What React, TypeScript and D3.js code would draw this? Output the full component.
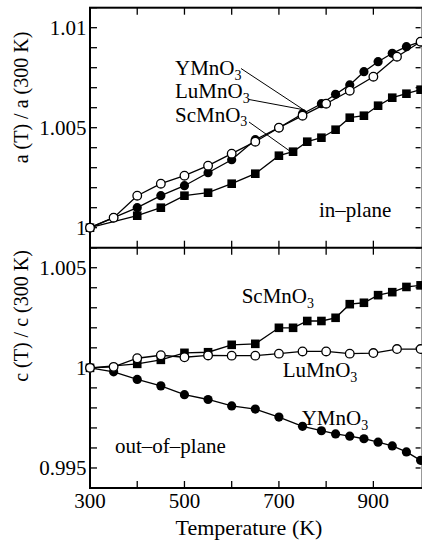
import React from "react";
import * as d3 from "d3";

// ---------- data ----------
// in-plane a(T)/a(300K)
const inY_T = [300, 350, 400, 450, 500, 550, 600, 650, 700, 750, 790, 820, 850, 880, 910, 940, 970, 1000];
const inY_V = [1, 1.0005, 1.001, 1.0016, 1.0021, 1.00275, 1.0034, 1.0044, 1.005, 1.0057, 1.0062, 1.00667, 1.00714, 1.0078, 1.0083, 1.00872, 1.00905, 1.0093];
const inLu_T = [300, 350, 400, 450, 500, 550, 600, 650, 700, 750, 800, 850, 900, 950, 1000];
const inLu_V = [1, 1.0005, 1.0016, 1.0022, 1.0026, 1.0031, 1.0037, 1.0043, 1.005, 1.0056, 1.0062, 1.00685, 1.00755, 1.00855, 1.0093];
const inSc_T = [300, 400, 450, 500, 550, 600, 650, 700, 730, 760, 790, 820, 850, 880, 910, 940, 970, 1000];
const inSc_V = [1, 1.0006, 1.001, 1.0016, 1.00175, 1.0022, 1.0027, 1.0036, 1.0038, 1.0043, 1.0045, 1.0049, 1.0055, 1.0056, 1.0061, 1.0065, 1.0067, 1.0069];

// out-of-plane c(T)/c(300K)
const outY_T = [300, 350, 400, 450, 500, 550, 600, 650, 700, 750, 790, 820, 850, 880, 910, 940, 970, 1000];
const outY_V = [1, 0.9998, 0.99942, 0.9991, 0.99866, 0.99842, 0.9981, 0.99794, 0.99754, 0.99708, 0.99686, 0.9967, 0.99659, 0.99646, 0.99629, 0.9961, 0.9958, 0.99538];
const outLu_T = [300, 350, 400, 450, 500, 550, 600, 650, 700, 750, 800, 850, 900, 950, 1000];
const outLu_V = [1, 1.00005, 1.00048, 1.00063, 1.00053, 1.00062, 1.00061, 1.00061, 1.00071, 1.00082, 1.00082, 1.00071, 1.00074, 1.00094, 1.00094];
const outSc_T = [300, 400, 450, 500, 550, 600, 650, 700, 730, 760, 790, 820, 850, 880, 910, 940, 970, 1000];
const outSc_V = [1, 1.0002, 1.0004, 1.00075, 1.00078, 1.00115, 1.0012, 1.002, 1.002, 1.00234, 1.00234, 1.0025, 1.00318, 1.00325, 1.00363, 1.00378, 1.00404, 1.00412];

const xTicks = [400, 500, 600, 700, 800, 900];
const xTickLabels = [300, 500, 700, 900];
const topLabels = [1, 1.005, 1.01];
const topLabelText = ["1", "1.005", "1.01"];
const botLabels = [0.995, 1, 1.005];
const botLabelText = ["0.995", "1", "1.005"];

// ---------- layout ----------
const W = 422, H = 543;
const L = 90, R = 420.6;
const T1 = 7.7, MID = 247.7, B2 = 488;
const FONT = "Liberation Serif, DejaVu Serif, serif";

const x = d3.scaleLinear().domain([300, 1000]).range([L, R]);
const yTop = d3.scaleLinear().domain([0.999, 1.011]).range([MID, T1]);
const yBot = d3.scaleLinear().domain([0.994, 1.006]).range([B2, MID]);

type Kind = "filled" | "open" | "square";

function Series({ ts, vs, y, kind }: { ts: number[]; vs: number[]; y: d3.ScaleLinear<number, number>; kind: Kind }) {
  const pts = ts.map((t, i) => [x(t), y(vs[i])] as [number, number]);
  const line = d3.line()(pts) || "";
  return (
    <g>
      <path d={line} fill="none" stroke="#000" strokeWidth={1.3} />
      {pts.map(([px, py], i) =>
        kind === "square" ? (
          <rect key={i} x={px - 4.3} y={py - 4.3} width={8.6} height={8.6} fill="#000" />
        ) : (
          <circle key={i} cx={px} cy={py} r={kind === "open" ? 4.3 : 4.6}
            fill={kind === "open" ? "#fff" : "#000"} stroke="#000" strokeWidth={kind === "open" ? 1.3 : 0} />
        )
      )}
    </g>
  );
}

function Chem({ x: tx, y: ty, base }: { x: number; y: number; base: string }) {
  return (
    <text x={tx} y={ty} style={{ fontFamily: FONT, fontSize: 21 }}>
      {base}
      <tspan style={{ fontSize: 14 }} dy={4.5}>3</tspan>
    </text>
  );
}

function YTicks({ y, lo, hi }: { y: d3.ScaleLinear<number, number>; lo: number; hi: number }) {
  const ticks = d3.range(Math.round(lo * 1000), Math.round(hi * 1000) + 1).map((k) => k / 1000);
  return (
    <g stroke="#000" strokeWidth={1.3}>
      {ticks.map((v, i) => (
        <g key={i}>
          <line x1={L} x2={L + 7} y1={y(v)} y2={y(v)} />
          <line x1={R} x2={R - 5} y1={y(v)} y2={y(v)} />
        </g>
      ))}
    </g>
  );
}

const txt = { fontFamily: FONT, fontSize: 21 };
const ytitle = { fontFamily: FONT, fontSize: 20 };
const xtitle = { fontFamily: FONT, fontSize: 22 };

export default function App() {
  return (
    <div style={{ position: "absolute", left: 0, top: 0 }}>
      <svg width={W} height={H} style={{ display: "block" }}>
        <rect width={W} height={H} fill="#fff" />
        {/* frames */}
        <rect x={L} y={T1} width={R - L + 2} height={B2 - T1} fill="none" stroke="#000" strokeWidth={2} />
        <line x1={L} x2={R + 2} y1={MID} y2={MID} stroke="#000" strokeWidth={2} />

        {/* x ticks */}
        <g stroke="#000" strokeWidth={1.3}>
          {xTicks.map((t) => (
            <g key={t}>
              <line x1={x(t)} x2={x(t)} y1={T1} y2={T1 + 7} />
              <line x1={x(t)} x2={x(t)} y1={MID - 7} y2={MID + 7} />
              <line x1={x(t)} x2={x(t)} y1={B2} y2={B2 - 7} />
            </g>
          ))}
        </g>
        <YTicks y={yTop} lo={0.999} hi={1.011} />
        <YTicks y={yBot} lo={0.994} hi={1.006} />

        {/* tick labels */}
        <g style={txt} fill="#000">
          {xTickLabels.map((t) => (
            <text key={t} x={x(t)} y={508} textAnchor="middle">{t}</text>
          ))}
          {topLabels.map((v, i) => (
            <text key={"t" + i} x={86.5} y={yTop(v) + 7} textAnchor="end">{topLabelText[i]}</text>
          ))}
          {botLabels.map((v, i) => (
            <text key={"b" + i} x={86.5} y={yBot(v) + 7} textAnchor="end">{botLabelText[i]}</text>
          ))}
        </g>

        {/* axis titles */}
        <text x={249} y={535} textAnchor="middle" style={xtitle}>Temperature (K)</text>
        <text transform="translate(28,97.5) rotate(-90)" textAnchor="middle" style={ytitle}>a (T) / a (300 K)</text>
        <text transform="translate(28,316) rotate(-90)" textAnchor="middle" style={ytitle}>c (T) / c (300 K)</text>

        {/* series: top */}
        <Series ts={inSc_T} vs={inSc_V} y={yTop} kind="square" />
        <Series ts={inY_T} vs={inY_V} y={yTop} kind="filled" />
        <Series ts={inLu_T} vs={inLu_V} y={yTop} kind="open" />

        {/* series: bottom */}
        <Series ts={outY_T} vs={outY_V} y={yBot} kind="filled" />
        <Series ts={outSc_T} vs={outSc_V} y={yBot} kind="square" />
        <Series ts={outLu_T} vs={outLu_V} y={yBot} kind="open" />

        {/* annotations top */}
        <Chem x={175} y={75} base="YMnO" />
        <Chem x={175} y={98.3} base="LuMnO" />
        <Chem x={175} y={121.7} base="ScMnO" />
        <g stroke="#000" strokeWidth={1}>
          <line x1={241} y1={68.5} x2={x(752)} y2={yTop(1.0059)} />
          <line x1={249} y1={99.5} x2={x(752)} y2={yTop(1.0059)} />
          <line x1={249} y1={122} x2={x(725)} y2={yTop(1.0038)} />
        </g>
        <text x={319} y={217} style={txt}>in–plane</text>

        {/* annotations bottom */}
        <Chem x={241.7} y={303.3} base="ScMnO" />
        <Chem x={282.7} y={377.3} base="LuMnO" />
        <Chem x={301.7} y={425} base="YMnO" />
        <text x={115} y={453.3} style={txt}>out–of–plane</text>
      </svg>
    </div>
  );
}
